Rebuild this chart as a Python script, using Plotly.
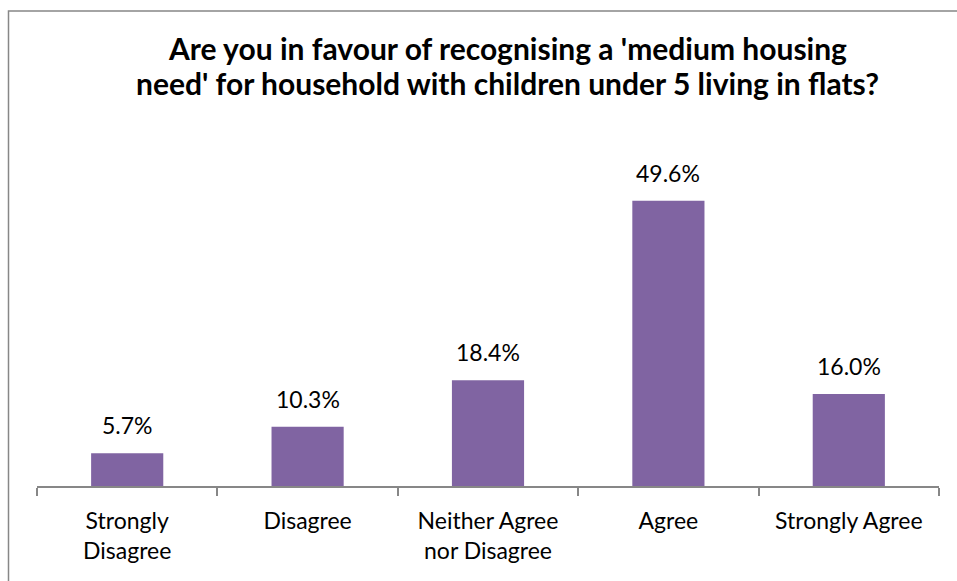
import plotly.graph_objects as go

categories = ["Strongly<br>Disagree", "Disagree", "Neither Agree<br>nor Disagree", "Agree", "Strongly Agree"]
values = [5.7, 10.3, 18.4, 49.6, 16.0]
labels = ["5.7%", "10.3%", "18.4%", "49.6%", "16.0%"]
title_lines = ["Are you in favour of recognising a 'medium housing",
               "need' for household with children under 5 living in flats?"]

W, H = 957, 581
L, R = 37, 939
T, B = 140.7, 486.5

fig = go.Figure()
fig.add_trace(go.Bar(x=categories, y=values, marker=dict(color="#8064A2", line=dict(width=0)),
                     hoverinfo="skip"))

for c, v, t in zip(categories, values, labels):
    fig.add_annotation(x=c, y=v, text=t, showarrow=False, yanchor="bottom", yshift=12,
                       font=dict(family="Lato", size=23, color="#000000"))

def px2x(p):
    return (p - L) / (R - L)

def py2y(p):
    return (B - p) / (B - T)

# title lines (baselines approx at y=61 and y=96)
for i, line in enumerate(title_lines):
    fig.add_annotation(xref="paper", yref="paper", x=px2x(507), y=py2y(68 + 35 * i),
                       xanchor="center", yanchor="bottom", text="<b>" + line + "</b>",
                       showarrow=False, font=dict(family="Lato", size=30, color="#000000"))

fig.add_shape(type="rect", xref="paper", yref="paper",
              x0=px2x(8.5), x1=px2x(1000), y0=py2y(10.5), y1=py2y(650),
              line=dict(color="#878787", width=1.5), fillcolor="rgba(0,0,0,0)", layer="below")

fig.update_layout(
    width=W, height=H,
    margin=dict(l=L, r=W - R, t=T, b=H - B, pad=0),
    paper_bgcolor="white", plot_bgcolor="white",
    bargap=0.6,
    showlegend=False,
    xaxis=dict(type="category", range=[-0.5, 4.5], showline=True, linecolor="#878787", linewidth=1.5,
               ticks="outside", tickson="boundaries", ticklen=8, tickcolor="#878787", tickwidth=1.5,
               ticklabelstandoff=14,
               showgrid=False, tickfont=dict(family="Lato", size=23, color="#000000")),
    yaxis=dict(range=[0, 60], visible=False, showgrid=False, zeroline=False),
)

fig.write_html("out.html")
